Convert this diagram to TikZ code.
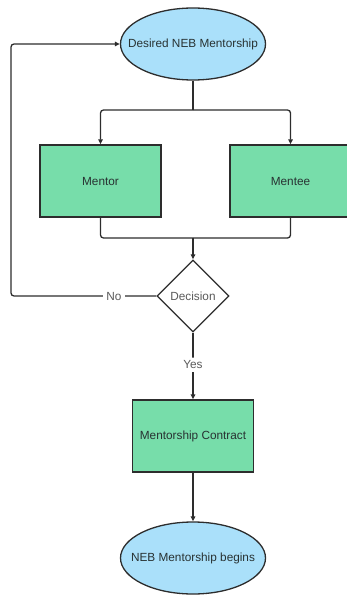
\documentclass[tikz,border=0pt]{standalone}
\usepackage{fontspec}
\setmainfont{Liberation Sans}
\usetikzlibrary{shapes.geometric,arrows.meta}
\definecolor{termblue}{RGB}{170,224,250}
\definecolor{procgreen}{RGB}{119,221,170}
\definecolor{edge}{RGB}{45,45,45}
\definecolor{txt}{RGB}{40,50,50}
\definecolor{gtxt}{RGB}{90,90,90}
\tikzset{
  x=1pt,y=-1pt,
  fnt/.style={font=\fontsize{11.8}{14}\selectfont},
  term/.style={ellipse,draw=edge,line width=1.3pt,fill=termblue,minimum width=145pt,minimum height=72pt,inner xsep=-22pt,inner ysep=0pt,fnt,text=txt},
  proc/.style={rectangle,draw=edge,line width=1.3pt,fill=procgreen,minimum width=121pt,minimum height=72pt,inner sep=0pt,fnt,text=txt},
  dec/.style={diamond,draw=edge,line width=1.3pt,fill=white,minimum width=72pt,minimum height=72pt,inner sep=0pt,fnt,text=gtxt},
  conn/.style={draw=edge,line width=1.3pt,rounded corners=3pt},
  arr/.style={conn,-{Triangle[length=5pt,width=4.5pt]}},
  lbl/.style={fill=white,inner sep=3pt,fnt,text=gtxt}
}
\begin{document}
\begin{tikzpicture}
\useasboundingbox (0,0) rectangle (346,596);
\node[term] (start) at (193,44) {Desired NEB Mentorship};
\node[proc] (mentor) at (100.5,181) {Mentor};
\node[proc] (mentee) at (290.5,181) {Mentee};
\node[dec] (decision) at (193,296) {Decision};
\node[proc] (contract) at (193,436) {Mentorship Contract};
\node[term] (end) at (193,558) {NEB Mentorship begins};
\coordinate (split) at (193,110);
\coordinate (join) at (193,238);
\draw[conn] (start.south) -- (split);
\draw[arr] (split) -| (mentor.north);
\draw[arr] (split) -| (mentee.north);
\draw[conn] (mentor.south) |- (join);
\draw[conn] (mentee.south) |- (join);
\draw[arr] (join) -- (decision.north);
\draw[arr] (decision.west) -- (11,296) -- (11,44) -- (start.west);
\node[lbl] at (114,296) {No};
\draw[arr] (decision.south) -- node[lbl,pos=0.48] {Yes} (contract.north);
\draw[arr] (contract.south) -- (end.north);
\end{tikzpicture}
\end{document}
